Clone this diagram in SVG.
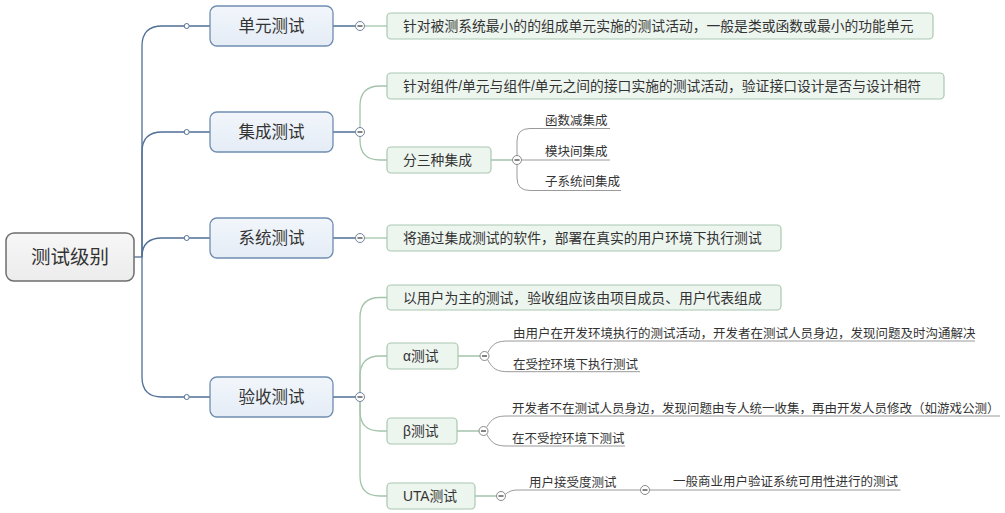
<svg xmlns="http://www.w3.org/2000/svg" width="1005" height="513" viewBox="0 0 1005 513">
<defs>
<linearGradient id="g1" x1="0" y1="0" x2="0" y2="1"><stop offset="0" stop-color="#f2f6fb"/><stop offset="1" stop-color="#e4ecf6"/></linearGradient>
<linearGradient id="g0" x1="0" y1="0" x2="0" y2="1"><stop offset="0" stop-color="#f7f7f7"/><stop offset="1" stop-color="#ececec"/></linearGradient>
</defs>
<style>
text{font-family:"Liberation Sans","Noto Sans CJK SC",sans-serif;fill:#333}
.root{fill:url(#g0);stroke:#6e6e6e;stroke-width:1.5}
.l1{fill:url(#g1);stroke:#6f8db0;stroke-width:1.3}
.l2{fill:#edf5ef;stroke:#a9c8b0;stroke-width:1.2}
.t0{font-size:19.5px;text-anchor:middle}
.t1{font-size:16.5px;text-anchor:middle}
.t2{font-size:13.8px}
.t3{font-size:12.5px}
.cb{fill:none;stroke:#4f6f96;stroke-width:1.3}
.cg{fill:none;stroke:#a4c4aa;stroke-width:1.3}
.cl{fill:none;stroke:#9a9a9a;stroke-width:1}
.dot{fill:#fff;stroke:#4f6f96;stroke-width:1}
.col{fill:#fff;stroke:#6f849c;stroke-width:1}
.colg{fill:#fff;stroke:#8a8a8a;stroke-width:1}
.minus{stroke:#333;stroke-width:1.2}
</style>
<g id="connectors">
<path class="cb" d="M134 257 H142"/>
<path class="cb" d="M142 257 V46 Q142 26 162 26 H184.2"/>
<path class="cb" d="M142 257 V152 Q142 132 162 132 H184.2"/>
<path class="cb" d="M142 257 C142 245 148 238 162 238 H184.2"/>
<path class="cb" d="M142 257 V377 Q142 397 162 397 H184.2"/>
<path class="cb" d="M189.2 26 H210 M189.2 132 H210 M189.2 238 H210 M189.2 397 H210"/>
<circle class="dot" cx="186.7" cy="26" r="2.5"/>
<circle class="dot" cx="186.7" cy="132" r="2.5"/>
<circle class="dot" cx="186.7" cy="238" r="2.5"/>
<circle class="dot" cx="186.7" cy="397" r="2.5"/>
<path class="cb" d="M333 26 H355.5 M333 132 H355.5 M333 238 H355.5 M333 397 H355.5"/>
<path class="cg" d="M364.5 26 H387"/>
<path class="cg" d="M360 127.5 V106 Q360 86 380 86 H387"/>
<path class="cg" d="M360 136.5 V140 Q360 160 380 160 H387"/>
<path class="cg" d="M364.5 238 H387"/>
<path class="cg" d="M360 392.5 V317.5 Q360 297.5 380 297.5 H387"/>
<path class="cg" d="M360 392.5 V376 Q360 356 380 356 H387"/>
<path class="cg" d="M360 401.5 V411 Q360 431 380 431 H387"/>
<path class="cg" d="M360 401.5 V476 Q360 496 380 496 H387"/>
<path class="cg" d="M491 160 H512.5 M458 356 H480 M457 431 H479 M475 496 H496.5"/>
<path class="cl" d="M517 155.5 V141 Q517 128.5 530 128.5 H610"/>
<path class="cl" d="M521.5 160 H610"/>
<path class="cl" d="M517 164.5 V178 Q517 190.5 530 190.5 H621"/>
<path class="cl" d="M487.5 353 C493 343 497 341 509 341 H975"/>
<path class="cl" d="M487.5 359.5 C493 369.5 497 371.7 509 371.7 H640"/>
<path class="cl" d="M486.5 427.5 C492 418 496 416 508 416 H1000"/>
<path class="cl" d="M486.5 434 C492 444 496 446 508 446 H625"/>
<path class="cl" d="M505.5 494 C510 491 512 490 518 490 H640.5"/>
<path class="cl" d="M649.5 490 H900.5"/>
<g id="collapse">
<circle class="col" cx="360" cy="26" r="4.5"/><path class="minus" d="M357.5 26 H362.5"/>
<circle class="col" cx="360" cy="132" r="4.5"/><path class="minus" d="M357.5 132 H362.5"/>
<circle class="col" cx="360" cy="238" r="4.5"/><path class="minus" d="M357.5 238 H362.5"/>
<circle class="col" cx="360" cy="397" r="4.5"/><path class="minus" d="M357.5 397 H362.5"/>
<circle class="colg" cx="517" cy="160" r="4.5"/><path class="minus" d="M514.5 160 H519.5"/>
<circle class="colg" cx="484.5" cy="356" r="4.5"/><path class="minus" d="M482 356 H487"/>
<circle class="colg" cx="483.5" cy="431" r="4.5"/><path class="minus" d="M481 431 H486"/>
<circle class="colg" cx="501" cy="496" r="4.5"/><path class="minus" d="M498.5 496 H503.5"/>
<circle class="colg" cx="645" cy="490" r="4.5"/><path class="minus" d="M642.5 490 H647.5"/>
</g>
</g>
<g id="root"><rect class="root" x="6" y="233" width="128" height="48" rx="8"/><text class="t0" x="70" y="264.4">测试级别</text></g>
<g id="n-unit"><rect class="l1" x="210" y="6" width="123" height="40" rx="7"/><text class="t1" x="271.5" y="32.3">单元测试</text></g>
<g id="n-integ"><rect class="l1" x="210" y="112" width="123" height="40" rx="7"/><text class="t1" x="271.5" y="138.3">集成测试</text></g>
<g id="n-sys"><rect class="l1" x="210" y="218" width="123" height="40" rx="7"/><text class="t1" x="271.5" y="244.3">系统测试</text></g>
<g id="n-accept"><rect class="l1" x="210" y="377" width="123" height="40" rx="7"/><text class="t1" x="271.5" y="403.3">验收测试</text></g>
<g id="n-unit-desc"><rect class="l2" x="387" y="13" width="546" height="26" rx="4"/><text class="t2" x="403" y="31.2">针对被测系统最小的的组成单元实施的测试活动，一般是类或函数或最小的功能单元</text></g>
<g id="n-integ-desc"><rect class="l2" x="387" y="73" width="557" height="26" rx="4"/><text class="t2" x="403" y="91.2">针对组件/单元与组件/单元之间的接口实施的测试活动，验证接口设计是否与设计相符</text></g>
<g id="n-integ-types"><rect class="l2" x="387" y="147" width="104" height="26" rx="4"/><text class="t2" x="403" y="165.2">分三种集成</text></g>
<g id="leaf-func"><text class="t3" x="545" y="125.4">函数减集成</text></g>
<g id="leaf-mod"><text class="t3" x="545" y="156.4">模块间集成</text></g>
<g id="leaf-subsys"><text class="t3" x="545" y="186.4">子系统间集成</text></g>
<g id="n-sys-desc"><rect class="l2" x="387" y="225" width="394" height="26" rx="4"/><text class="t2" x="403" y="243.2">将通过集成测试的软件，部署在真实的用户环境下执行测试</text></g>
<g id="n-accept-desc"><rect class="l2" x="387" y="285" width="394" height="25" rx="4"/><text class="t2" x="403" y="302.7">以用户为主的测试，验收组应该由项目成员、用户代表组成</text></g>
<g id="n-alpha"><rect class="l2" x="387" y="343" width="71" height="26" rx="4"/><text class="t2" x="403" y="361.2">α测试</text></g>
<g id="leaf-alpha-1"><text class="t3" x="513" y="337.7">由用户在开发环境执行的测试活动，开发者在测试人员身边，发现问题及时沟通解决</text></g>
<g id="leaf-alpha-2"><text class="t3" x="513" y="368.7">在受控环境下执行测试</text></g>
<g id="n-beta"><rect class="l2" x="387" y="418" width="70" height="26" rx="4"/><text class="t2" x="403" y="436.2">β测试</text></g>
<g id="leaf-beta-1"><text class="t3" x="512" y="413">开发者不在测试人员身边，发现问题由专人统一收集，再由开发人员修改（如游戏公测）</text></g>
<g id="leaf-beta-2"><text class="t3" x="512" y="443">在不受控环境下测试</text></g>
<g id="n-uta"><rect class="l2" x="387" y="483" width="88" height="26" rx="4"/><text class="t2" x="403" y="501.2">UTA测试</text></g>
<g id="leaf-uta"><text class="t3" x="529" y="487.4">用户接受度测试</text></g>
<g id="leaf-uta-desc"><text class="t3" x="673" y="486.4">一般商业用户验证系统可用性进行的测试</text></g>
</svg>
